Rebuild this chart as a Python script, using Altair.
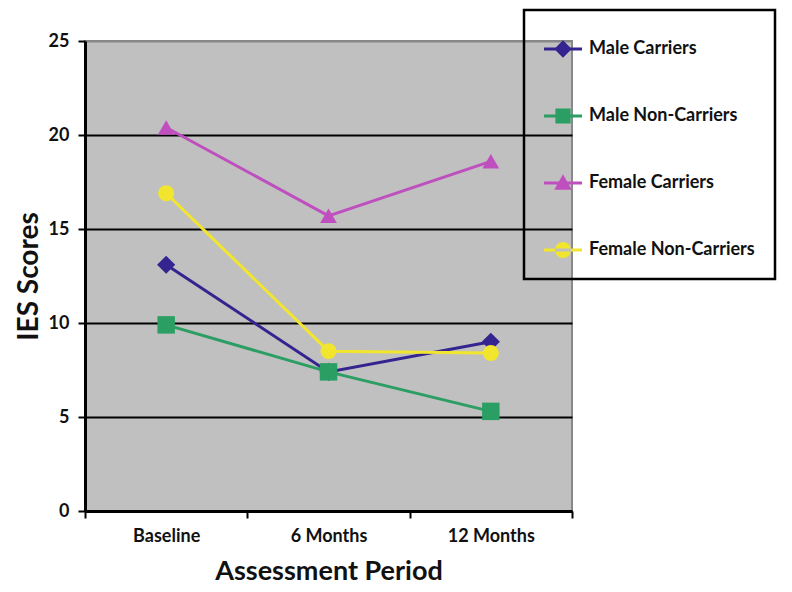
import altair as alt
import pandas as pd

categories = ["Baseline", "6 Months", "12 Months"]
groups = ["Male Carriers", "Male Non-Carriers", "Female Carriers", "Female Non-Carriers"]
male_carriers = [13.1, 7.4, 9.0]
male_non_carriers = [9.9, 7.4, 5.3]
female_carriers = [20.4, 15.7, 18.6]
female_non_carriers = [16.9, 8.5, 8.4]
colors = ["#33248f", "#2b9e63", "#bf4fbf", "#f2e52e"]
shapes = ["diamond", "square", "triangle-up", "circle"]
marker_sizes = [330, 256, 300, 290]
y_ticks = [0, 5, 10, 15, 20, 25]

series = [male_carriers, male_non_carriers, female_carriers, female_non_carriers]
rows = []
for g, vals in zip(groups, series):
    for c, v in zip(categories, vals):
        rows.append({"group": g, "period": c, "score": v})
df = pd.DataFrame(rows)

cat_js = "[" + ",".join("'%s'" % c for c in categories) + "]"
label_expr = " : ".join(
    "datum.value == %s ? '%s'" % (i + 0.5, c) for i, c in enumerate(categories)
) + " : ''"

# legend symbol paths: line + marker (unit space)
line_rect = "M-1,-0.08H1V0.08H-1Z"
leg_paths = [
    line_rect + "M0,-0.46L0.46,0L0,0.46L-0.46,0Z",
    line_rect + "M-0.4,-0.4H0.4V0.4H-0.4Z",
    line_rect + "M0,-0.46L0.46,0.36H-0.46Z",
    line_rect + "M-0.42,0A0.42,0.42 0 1,0 0.42,0A0.42,0.42 0 1,0 -0.42,0Z",
]

x_enc = alt.X(
    "xi:Q",
    scale=alt.Scale(domain=[0, 3], nice=False),
    axis=alt.Axis(
        values=[0, 0.5, 1, 1.5, 2, 2.5, 3],
        labelExpr=label_expr,
        title="Assessment Period",
        grid=False,
        tickOpacity={"condition": {"test": "datum.value % 1 != 0", "value": 0}, "value": 1},
        tickSize=7,
        tickWidth=2,
        tickColor="black",
        domainColor="black",
        domainWidth=3,
        labelFont="Lato",
        labelFontSize=18,
        labelFontWeight="bold",
        labelColor="#111",
        labelPadding=9,
        titleFont="Lato",
        titleFontSize=27,
        titleFontWeight="bold",
        titleColor="#111",
        titlePadding=13,
    ),
)
y_enc = alt.Y(
    "score:Q",
    scale=alt.Scale(domain=[0, 25], nice=False),
    axis=alt.Axis(
        values=y_ticks,
        title="IES Scores",
        grid=True,
        gridColor={"condition": {"test": "datum.value == 25", "value": "#888888"}, "value": "black"},
        gridWidth=2,
        tickSize=7,
        tickWidth=2,
        tickColor="black",
        domainColor="black",
        domainWidth=3,
        labelFont="Lato",
        labelFontSize=18,
        labelFontWeight="bold",
        labelColor="#111",
        labelPadding=9,
        titleFont="Lato",
        titleFontSize=28,
        titleFontWeight="bold",
        titleColor="#111",
        titlePadding=5,
    ),
)

legend = alt.Legend(
    title=None,
    orient="none",
    legendX=439,
    legendY=-31,
    strokeColor="black",
    padding=20,
    symbolSize=1444,
    symbolOpacity=1,
    symbolStrokeWidth=0,
    labelFont="Lato",
    labelFontSize=18,
    labelFontWeight="bold",
    labelColor="#111",
    labelOffset=7,
    labelLimit=400,
    rowPadding=39,
)

def cscale():
    return alt.Scale(domain=groups, range=colors)

base = alt.Chart(df).transform_calculate(
    xi="indexof(%s, datum.period) + 0.5" % cat_js
)

lines = base.mark_line(strokeWidth=3).encode(
    x=x_enc, y=y_enc, color=alt.Color("group:N", scale=cscale(), legend=None), detail="group:N"
)
points = base.mark_point(filled=True, opacity=1).encode(
    x=x_enc,
    y=y_enc,
    color=alt.Color("group:N", scale=cscale(), legend=None),
    shape=alt.Shape("group:N", scale=alt.Scale(domain=groups, range=shapes), legend=None),
    size=alt.Size("group:N", scale=alt.Scale(domain=groups, range=marker_sizes), legend=None),
)
legend_layer = base.mark_point(filled=True, opacity=0, size=1444).encode(
    x=x_enc,
    y=y_enc,
    color=alt.Color("group:N", scale=cscale(), legend=legend),
    shape=alt.Shape("group:N", scale=alt.Scale(domain=groups, range=leg_paths), legend=legend),
)

chart = (
    alt.layer(lines, points, legend_layer)
    .resolve_scale(color="independent", shape="independent")
    .resolve_legend(color="independent", shape="independent")
    .properties(
        width=487,
        height=470,
        autosize=alt.AutoSizeParams(type="none"),
        padding={"left": 77, "top": 33, "right": 212, "bottom": 73},
        background="white",
    )
    .configure_view(fill="#c0c0c0", stroke="#888888", strokeWidth=2)
    .configure_legend(strokeWidth=2.5)
)

chart.save("out.html", embed_options={"renderer": "svg", "actions": False})
